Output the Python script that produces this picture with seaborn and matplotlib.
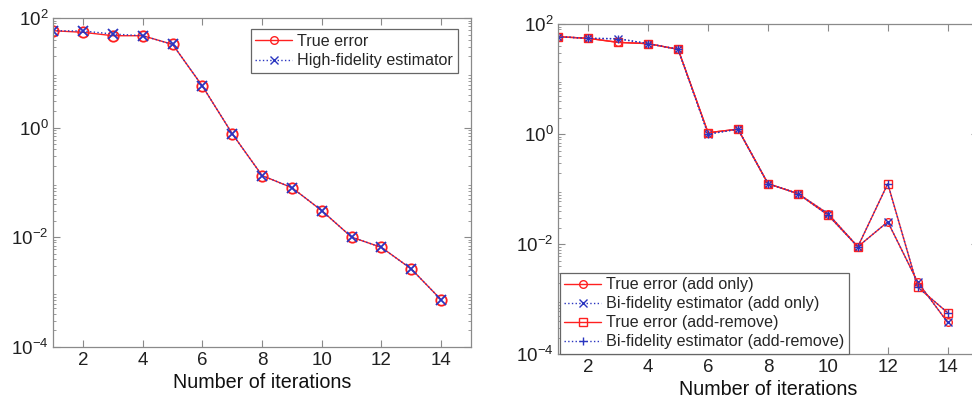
import numpy as np
import matplotlib
matplotlib.use("Agg")
import matplotlib.pyplot as plt
import matplotlib.ticker as mticker
import seaborn as sns

# ---- data ----
iters = [1, 2, 3, 4, 5, 6, 7, 8, 9, 10, 11, 12, 13, 14]

left_true = [58.6, 54.8, 47.5, 47.5, 33.0, 5.7, 0.77, 0.133, 0.080, 0.0305, 0.0100, 0.0065, 0.00263, 0.00072]
left_hf = [58.6, 57.9, 51.0, 47.5, 33.0, 5.7, 0.77, 0.133, 0.080, 0.0305, 0.0100, 0.0065, 0.00263, 0.00072]

right_true_add = [58.8, 55.0, 46.4, 44.0, 34.7, 1.06, 1.23, 0.126, 0.083, 0.036, 0.0090, 0.0255, 0.00204, 0.00038]
right_bf_add = [58.8, 55.0, 54.0, 44.0, 34.7, 1.00, 1.23, 0.126, 0.083, 0.036, 0.0090, 0.0255, 0.00204, 0.00038]
right_true_ar = [58.8, 55.0, 46.4, 44.0, 34.7, 1.06, 1.23, 0.126, 0.083, 0.034, 0.0090, 0.126, 0.00166, 0.00057]
right_bf_ar = [58.8, 55.0, 54.0, 44.0, 34.7, 1.00, 1.23, 0.126, 0.083, 0.034, 0.0090, 0.126, 0.00166, 0.00057]

xticks = [2, 4, 6, 8, 10, 12, 14]
yticks = [1e-4, 1e-2, 1e0, 1e2]

sns.set_style("ticks")
plt.rcParams['font.family'] = ['Liberation Sans', 'DejaVu Sans']
plt.rcParams['mathtext.fontset'] = 'custom'
plt.rcParams['mathtext.rm'] = 'Liberation Sans'
plt.rcParams['mathtext.it'] = 'Liberation Sans:italic'

RED = '#ff2020'
BLUE = '#2a35c0'
AX = '#8a8a8a'

fig = plt.figure(figsize=(9.72, 4.03), dpi=100)
axL = fig.add_axes([0.0548, 0.1397, 0.4297, 0.8156])
axR = fig.add_axes([0.5744, 0.1208, 0.4314, 0.8196])


def style(ax):
    ax.set_yscale('log')
    ax.set_xlim(1, 15)
    ax.set_ylim(1e-4, 1e2)
    ax.set_xticks(xticks)
    ax.yaxis.set_major_locator(mticker.FixedLocator(yticks))
    ax.yaxis.set_minor_locator(mticker.LogLocator(base=10, subs=np.arange(2, 10), numticks=20))
    ax.yaxis.set_minor_formatter(mticker.NullFormatter())
    ax.tick_params(which='both', direction='in', top=True, right=True, color=AX,
                   labelsize=13.5, labelcolor='#202020')
    ax.tick_params(which='major', length=5, width=0.8)
    ax.tick_params(which='minor', length=2.5, width=0.6)
    for s in ax.spines.values():
        s.set_visible(True)
        s.set_color(AX)
        s.set_linewidth(0.9)
    ax.set_xlabel('Number of iterations', fontsize=14.2, color='#111111', labelpad=3)
    ax.set_ylabel('')


def draw(ax, y, color, marker, ls, label, mew=1.0, ms=7.5):
    sns.lineplot(x=iters, y=y, ax=ax, color=color, marker=marker, linestyle=ls,
                 linewidth=1.0, markersize=ms, markerfacecolor='none',
                 markeredgecolor=color, markeredgewidth=mew, label=label,
                 errorbar=None, sort=False)


draw(axL, left_true, RED, 'o', '-', 'True error', mew=1.3)
draw(axL, left_hf, BLUE, 'x', ':', 'High-fidelity estimator', mew=1.3, ms=6.5)
style(axL)
leg = axL.legend(loc='upper right', bbox_to_anchor=(458 / 972, 1 - 29.3 / 403),
                 bbox_transform=fig.transFigure, fontsize=11.6, fancybox=False,
                 framealpha=1, edgecolor='#666666', handlelength=2.3,
                 borderpad=0.3, labelspacing=0.25, handletextpad=0.3, borderaxespad=0)
leg.get_frame().set_linewidth(0.9)

draw(axR, right_true_add, RED, 'o', '-', 'True error (add only)', mew=1.8)
draw(axR, right_bf_add, BLUE, 'x', ':', 'Bi-fidelity estimator (add only)', mew=1.5, ms=6.5)
draw(axR, right_true_ar, RED, 's', '-', 'True error (add-remove)', mew=1.5, ms=6.5)
draw(axR, right_bf_ar, BLUE, '+', ':', 'Bi-fidelity estimator (add-remove)', mew=1.5)
style(axR)
handles, labels = axR.get_legend_handles_labels()
for h in handles:
    h.set_markersize(5.5)
    h.set_markeredgewidth(1.0)
legR = axR.legend(handles, labels, loc='lower left', bbox_to_anchor=(0.003, 0.0),
                  fontsize=11.6, fancybox=False, framealpha=1, edgecolor='#666666',
                  handlelength=2.3, borderpad=0.3, labelspacing=0.25,
                  handletextpad=0.3, borderaxespad=0)
legR.get_frame().set_linewidth(0.9)
for h in leg.legend_handles:
    h.set_markersize(5.5)
    h.set_markeredgewidth(1.0)

fig.savefig('out.png', dpi=100)
